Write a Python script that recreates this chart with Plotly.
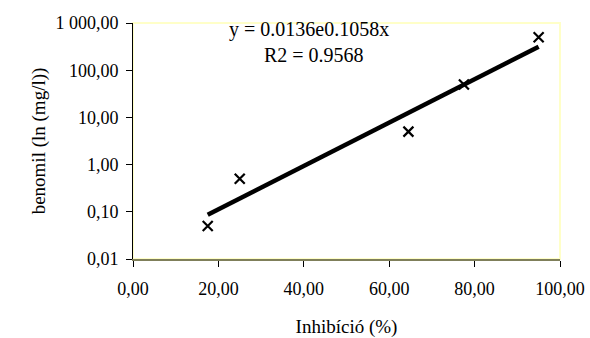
import math
import plotly.graph_objects as go

# Data
inhibition = [17.5, 25.0, 64.5, 77.5, 95.0]
benomil = [0.05, 0.5, 5.0, 50.0, 500.0]

trend_a = 0.0136
trend_b = 0.1058
trend_label = "y = 0.0136e0.1058x"
r2_label = "R2 = 0.9568"

x_tickvals = [0, 20, 40, 60, 80, 100]
x_ticktext = ["0,00", "20,00", "40,00", "60,00", "80,00", "100,00"]
y_tickvals = [0.01, 0.1, 1, 10, 100, 1000]
y_ticktext = ["0,01", "0,10", "1,00", "10,00", "100,00", "1 000,00"]

trend_x = [min(inhibition), max(inhibition)]
trend_y = [trend_a * math.exp(trend_b * v) for v in trend_x]

FONT = "Liberation Serif"

fig = go.Figure()
fig.add_trace(go.Scatter(x=trend_x, y=trend_y, mode="lines",
                         line=dict(color="black", width=4.5), showlegend=False))
fig.add_trace(go.Scatter(x=inhibition, y=benomil, mode="markers",
                         marker=dict(symbol="x-thin", size=10,
                                     line=dict(color="black", width=2.2)),
                         showlegend=False))

fig.add_shape(type="rect", xref="paper", yref="paper", x0=0, y0=0, x1=1, y1=1,
              line=dict(color="#FFFFC8", width=2), layer="below")

fig.add_annotation(xref="paper", yref="paper", x=0.412, y=0.971, text=trend_label,
                   showarrow=False, xanchor="center", yanchor="middle",
                   font=dict(family=FONT, size=20, color="black"))
fig.add_annotation(xref="paper", yref="paper", x=0.424, y=0.865, text=r2_label,
                   showarrow=False, xanchor="center", yanchor="middle",
                   font=dict(family=FONT, size=20, color="black"))

fig.update_layout(
    width=590, height=338,
    margin=dict(l=133, r=30, t=23, b=79, autoexpand=False),
    paper_bgcolor="white", plot_bgcolor="white",
    font=dict(family=FONT, size=18, color="black"),
    xaxis=dict(range=[0, 100], tickvals=x_tickvals, ticktext=x_ticktext,
               showgrid=False, zeroline=False, showline=True, automargin=False,
               linecolor="#7f7f5a", linewidth=2,
               ticks="outside", ticklen=6, tickcolor="black", tickwidth=1,
               ticklabelstandoff=6,
               title=dict(text="Inhibíció (%)", font=dict(family=FONT, size=19), standoff=22),
               tickfont=dict(family=FONT, size=18)),
    yaxis=dict(type="log", range=[-2, 3], tickvals=y_tickvals, ticktext=y_ticktext,
               showgrid=False, zeroline=False, showline=True, automargin=False,
               linecolor="black", linewidth=1,
               ticks="outside", ticklen=6, tickcolor="black", tickwidth=1,
               ticklabelstandoff=4,
               title=dict(text="benomil (ln (mg/l))", font=dict(family=FONT, size=19), standoff=4),
               tickfont=dict(family=FONT, size=18)),
)

fig.write_html("out.html",
               config={"displayModeBar": False},
               post_script="document.body.style.margin='0';document.body.style.overflow='hidden';")
